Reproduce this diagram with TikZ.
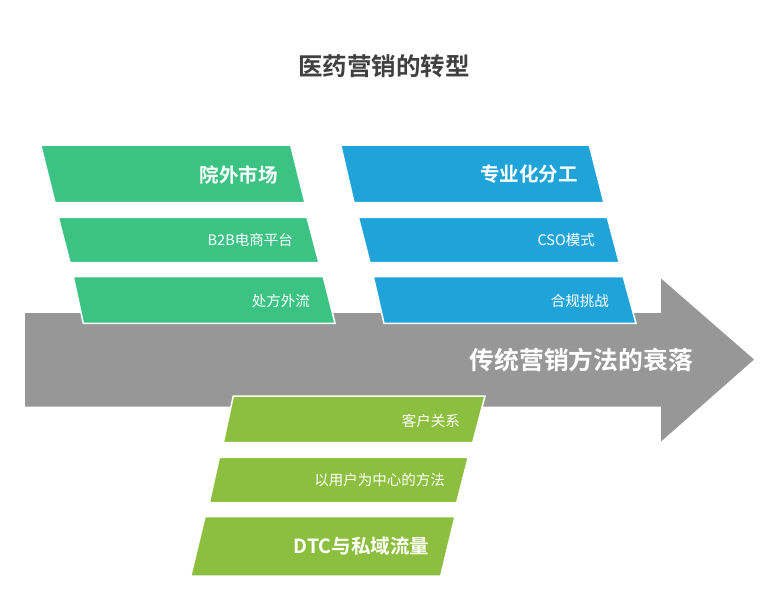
\documentclass[tikz,border=0pt]{standalone}
\usepackage{fontspec}
\setmainfont{Noto Sans CJK SC}
\newfontfamily\cjkbold{Noto Sans CJK SC Bold}
\definecolor{cgreen}{HTML}{3CC283}
\definecolor{cblue}{HTML}{1FA3D9}
\definecolor{clime}{HTML}{8CBF3F}
\definecolor{cgray}{HTML}{979797}
\definecolor{ctitle}{HTML}{404040}
\tikzset{
  band/.style={draw=white, line width=1.5pt, line join=miter},
  bigtxt/.style={anchor=east, inner sep=0pt, text=white, font=\cjkbold\fontsize{19.5}{20}\selectfont},
  smalltxt/.style={anchor=east, inner sep=0pt, text=white, font=\fontsize{14.5}{15}\selectfont},
}
\begin{document}
\begin{tikzpicture}[x=1pt,y=-1pt]
\useasboundingbox[fill=white] (0,0) rectangle (767,592);
% title
\node[inner sep=0pt, text=ctitle, font=\cjkbold\fontsize{24.5}{25}\selectfont] (title) at (384,66) {医药营销的转型};
% gray arrow
\fill[cgray] (25,313) -- (661,313) -- (661,278.5) -- (754,359.5) -- (661,441.5) -- (661,406.5) -- (25,406.5) -- cycle;
\node[anchor=east, inner sep=0pt, text=white, font=\cjkbold\fontsize{24.8}{25}\selectfont] (arrowtxt) at (693,360) {传统营销方法的衰落};
% green bands
\path[band, fill=cgreen] (40.7,145) -- (290.7,145) -- (305,202.7) -- (55,202.7) -- cycle;
\path[band, fill=cgreen] (58.3,217.3) -- (307,217.3) -- (319,262.7) -- (70,262.7) -- cycle;
\path[band, fill=cgreen] (73.3,276.7) -- (323.3,276.7) -- (335,323.3) -- (83.3,323.3) -- cycle;
\node[bigtxt] (g1) at (278,174.5) {院外市场};
\node[smalltxt] (g2) at (293,240) {B2B电商平台};
\node[smalltxt] (g3) at (310,300.5) {处方外流};
% blue bands
\path[band, fill=cblue] (340.7,145) -- (589.3,145) -- (604,202.7) -- (354,202.7) -- cycle;
\path[band, fill=cblue] (358.3,217.3) -- (607.3,217.3) -- (619.3,262.7) -- (370,262.7) -- cycle;
\path[band, fill=cblue] (373.3,276.7) -- (623.3,276.7) -- (636,323.3) -- (384,323.3) -- cycle;
\node[bigtxt] (b1) at (578,174.5) {专业化分工};
\node[smalltxt] (b2) at (595,240) {CSO模式};
\node[smalltxt] (b3) at (609,300.5) {合规挑战};
% lime bands
\path[band, fill=clime] (233.3,396) -- (485,396) -- (472.7,442.7) -- (223.3,442.7) -- cycle;
\path[band, fill=clime] (219.3,457.3) -- (468.3,457.3) -- (456.7,502.7) -- (209.3,502.7) -- cycle;
\path[band, fill=clime] (205,516.7) -- (455,516.7) -- (440.7,576) -- (190.7,576) -- cycle;
\node[smalltxt] (l1) at (460,420.5) {客户关系};
\node[smalltxt] (l2) at (445,479.5) {以用户为中心的方法};
\node[bigtxt] (l3) at (429.3,546) {DTC与私域流量};
\end{tikzpicture}
\end{document}
